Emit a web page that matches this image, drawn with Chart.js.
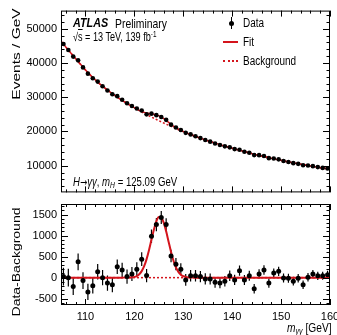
<!DOCTYPE html>
<html>
<head>
<meta charset="utf-8">
<script src="https://cdn.jsdelivr.net/npm/chart.js@4.4.1/dist/chart.umd.min.js"></script>
<style>
    html, body { margin: 0; padding: 0; background: #fff; }
    #wrap { position: relative; width: 337px; height: 335px; overflow: hidden; font-family: 'Liberation Sans', Arial, sans-serif; color: #000; }
    canvas { position: absolute; left: 0; }
    #topChart { top: 0; }
    #bottomChart { top: 200px; }
    .lbl { position: absolute; white-space: nowrap; line-height: 1; transform-origin: left center; }
    .vlbl { position: absolute; white-space: nowrap; line-height: 1; }
    .arrow { font-family: 'DejaVu Sans', sans-serif; font-size: 90%; }
    sub { font-size: 70%; vertical-align: -0.25em; line-height: 0; }
    sup { font-size: 70%; vertical-align: 0.45em; line-height: 0; }
</style>
</head>
<body>
<div id="wrap">
    <canvas id="topChart" width="337" height="203"></canvas>
    <canvas id="bottomChart" width="337" height="135"></canvas>

    <div class="vlbl" style="left:16px; top:54px; font-size:15.5px; transform: translate(-50%, -50%) rotate(-90deg) scaleY(0.75);">Events / GeV</div>
    <div class="vlbl" style="left:16px; top:262px; font-size:14px; transform: translate(-50%, -50%) rotate(-90deg) scaleY(0.8);">Data-Background</div>

    <div class="lbl" style="left:73px; top:23px; font-size:13.5px; font-weight:bold; font-style:italic; transform: translateY(-50%) scaleX(0.8);">ATLAS</div>
    <div class="lbl" style="left:115px; top:23px; font-size:13px; transform: translateY(-50%) scaleX(0.8);">Preliminary</div>
    <div class="lbl" style="left:73px; top:37px; font-size:12px; transform: translateY(-50%) scaleX(0.76);">&radic;<span style="text-decoration: overline;">s</span> = 13 TeV, 139 fb<sup>-1</sup></div>
    <div class="lbl" style="left:73px; top:182px; font-size:12px; transform: translateY(-50%) scaleX(0.8);"><i>H</i><span class="arrow">&rarr;</span><i>&gamma;&gamma;</i>, <i>m<sub>H</sub></i> = 125.09 GeV</div>

    <!-- legende -->
    <div style="position:absolute; left:231px; top:17px; width:1px; height:12px; background:#000;"></div>
    <div style="position:absolute; left:229px; top:21px; width:5px; height:5px; border-radius:50%; background:#000;"></div>
    <div class="lbl" style="left:243px; top:23px; font-size:12px; transform: translateY(-50%) scaleX(0.83);">Data</div>
    <div style="position:absolute; left:223px; top:41px; width:15px; height:2px; background:#d4141c;"></div>
    <div class="lbl" style="left:243px; top:42px; font-size:12px; transform: translateY(-50%) scaleX(0.83);">Fit</div>
    <div style="position:absolute; left:223px; top:60px; width:15px; height:0; border-top:2px dotted #d4141c;"></div>
    <div class="lbl" style="left:243px; top:61px; font-size:12px; transform: translateY(-50%) scaleX(0.83);">Background</div>

    <div class="lbl" style="left:287px; top:328px; font-size:12px; transform: translateY(-50%) scaleX(0.85);"><i>m<sub>&gamma;&gamma;</sub></i> [GeV]</div>
</div>

<script>
// Centres des bins (GeV)
const massBins = [
    105.5, 106.5, 107.5, 108.5, 109.5, 110.5, 111.5, 112.5, 113.5, 114.5,
    115.5, 116.5, 117.5, 118.5, 119.5, 120.5, 121.5, 122.5, 123.5, 124.5,
    125.5, 126.5, 127.5, 128.5, 129.5, 130.5, 131.5, 132.5, 133.5, 134.5,
    135.5, 136.5, 137.5, 138.5, 139.5, 140.5, 141.5, 142.5, 143.5, 144.5,
    145.5, 146.5, 147.5, 148.5, 149.5, 150.5, 151.5, 152.5, 153.5, 154.5,
    155.5, 156.5, 157.5, 158.5, 159.5
];

// Evenements / GeV (donnees)
const eventsData = [
    45525, 43780, 41870, 40775, 38710, 36880, 35560, 34560, 33200, 31970,
    30880, 30310, 29280, 28225, 27415, 26700, 26140, 24990, 25195, 24760,
    24240, 23390, 21985, 21160, 20430, 19595, 19135, 18595, 18055, 17500,
    17020, 16480, 16025, 15645, 15355, 14845, 14665, 14055, 13775, 13095,
    13085, 12840, 12200, 12120, 11850, 11390, 11095, 10745, 10545, 10130,
    10040, 9865, 9585, 9355, 9160
];

// Incertitudes statistiques
const dataErrors = [
    213, 209, 205, 201, 197, 193, 189, 186, 182, 179,
    176, 174, 171, 168, 166, 163, 161, 158, 159, 157,
    156, 153, 148, 145, 143, 140, 138, 136, 134, 132,
    130, 128, 127, 125, 124, 122, 121, 119, 117, 114,
    114, 113, 110, 110, 109, 107, 105, 104, 103, 101,
    100, 99, 98, 97, 96
];

// Bruit de fond (aux centres des bins) + bords
const bkgEvents = [
    45500, 43780, 42080, 40400, 38780, 37220, 35750, 34420, 33200, 32100,
    31050, 30050, 29100, 28200, 27330, 26500, 25700, 24940, 24210, 23500,
    22810, 22130, 21470, 20840, 20230, 19650, 19090, 18550, 18030, 17530,
    17050, 16590, 16150, 15730, 15310, 14900, 14500, 14110, 13730, 13360,
    13000, 12660, 12330, 12010, 11700, 11400, 11110, 10830, 10560, 10300,
    10030, 9780, 9540, 9310, 9090
];
const bkgAt105 = 46360;
const bkgAt160 = 8980;

// Ajustement signal + fond
const fitEvents = [
    45500, 43780, 42080, 40400, 38780, 37220, 35750, 34420, 33200, 32100,
    31050, 30050, 29100, 28200, 27337, 26539, 25855, 25381, 25114, 24838,
    24239, 23230, 22081, 21085, 20301, 19665, 19092, 18550, 18030, 17530,
    17050, 16590, 16150, 15730, 15310, 14900, 14500, 14110, 13730, 13360,
    13000, 12660, 12330, 12010, 11700, 11400, 11110, 10830, 10560, 10300,
    10030, 9780, 9540, 9310, 9090
];

// Donnees - fond
const residuals = [
    25, 0, -210, 375, -70, -340, -190, 140, 0, -130,
    -170, 260, 180, 25, 85, 200, 440, 50, 985, 1260,
    1430, 1260, 515, 320, 200, -55, 45, 45, 25, -30,
    -30, -110, -125, -85, 45, -55, 165, -55, 45, -265,
    85, 180, -130, 110, 150, -10, -15, -85, -15, -170,
    10, 85, 45, 45, 70
];

// Courbe du signal (panneau du bas)
const signalMass = [
    105, 117, 117.5, 118, 118.5, 119, 119.5, 120, 120.5, 121, 121.5, 122, 122.5,
    123, 123.5, 124, 124.5, 125, 125.5, 126, 126.5, 127, 127.5, 128, 128.5,
    129, 129.5, 130, 130.5, 131, 131.5, 132, 132.5, 133, 160
];
const signalFit = [
    0, 0, 0, 1, 1, 3, 7, 18, 39, 81, 155, 272, 441,
    658, 904, 1146, 1338, 1440, 1429, 1306, 1100, 854, 611, 403, 245,
    137, 71, 34, 15, 6, 2, 1, 0, 0, 0
];

// Graduations
const xTicks = [110, 120, 130, 140, 150, 160];
const yTicksTop = [10000, 20000, 30000, 40000, 50000];
const yTicksBottom = [-500, 0, 500, 1000, 1500];

const RED = '#d4141c';

const pts = (xs, ys) => xs.map((x, i) => ({ x: x, y: ys[i] }));

// Cadre style ROOT avec graduations vers l'interieur
const rootFrame = {
    id: 'rootFrame',
    afterDatasetsDraw(chart, args, opts) {
        const { ctx, chartArea: a, scales } = chart;
        const x = scales.x, y = scales.y;
        ctx.save();
        ctx.strokeStyle = '#000';
        ctx.lineWidth = 1;
        ctx.beginPath();
        const x0 = Math.ceil(x.min / opts.xMinor - 1e-9);
        for (let k = x0; k * opts.xMinor <= x.max + 1e-9; k++) {
            const v = k * opts.xMinor;
            const px = Math.round(x.getPixelForValue(v)) + 0.5;
            const len = (Math.abs(v % opts.xMajor) < 1e-9) ? 6 : 3;
            ctx.moveTo(px, a.bottom); ctx.lineTo(px, a.bottom - len);
            ctx.moveTo(px, a.top); ctx.lineTo(px, a.top + len);
        }
        const y0 = Math.ceil(y.min / opts.yMinor - 1e-9);
        for (let k = y0; k * opts.yMinor <= y.max + 1e-9; k++) {
            const v = k * opts.yMinor;
            const py = Math.round(y.getPixelForValue(v)) + 0.5;
            const len = (Math.abs(v % opts.yMajor) < 1e-9) ? 7 : 3.5;
            ctx.moveTo(a.left, py); ctx.lineTo(a.left + len, py);
            ctx.moveTo(a.right, py); ctx.lineTo(a.right - len, py);
        }
        ctx.stroke();
        ctx.strokeRect(a.left + 0.5, a.top + 0.5, a.right - a.left - 1, a.bottom - a.top - 1);
        ctx.restore();
    }
};

// Barres d'erreur verticales
const errorBars = {
    id: 'errorBars',
    beforeDatasetsDraw(chart, args, opts) {
        const { ctx, chartArea: a, scales: { x, y } } = chart;
        const ds = chart.data.datasets[0];
        ctx.save();
        ctx.beginPath();
        ctx.rect(a.left, a.top, a.right - a.left, a.bottom - a.top);
        ctx.clip();
        ctx.strokeStyle = '#000';
        ctx.lineWidth = 1.2;
        ctx.beginPath();
        ds.data.forEach((p, i) => {
            const px = x.getPixelForValue(p.x);
            ctx.moveTo(px, y.getPixelForValue(p.y - dataErrors[i]));
            ctx.lineTo(px, y.getPixelForValue(p.y + dataErrors[i]));
        });
        ctx.stroke();
        ctx.restore();
    }
};

const tickFont = { family: "'Liberation Sans', Arial, sans-serif", size: 11 };
const noGrid = { display: false, drawTicks: false };

// Panneau du haut
new Chart(document.getElementById('topChart'), {
    type: 'scatter',
    data: {
        datasets: [{
            label: 'Data',
            data: pts(massBins, eventsData),
            pointRadius: 2.3,
            pointBackgroundColor: '#000',
            pointBorderWidth: 0,
            showLine: false,
            order: 0
        }, {
            label: 'Fit',
            data: pts([105, ...massBins, 160], [bkgAt105, ...fitEvents, bkgAt160]),
            showLine: true,
            borderColor: RED,
            borderWidth: 1.5,
            pointRadius: 0,
            cubicInterpolationMode: 'monotone',
            order: 1
        }, {
            label: 'Background',
            data: pts([105, ...massBins, 160], [bkgAt105, ...bkgEvents, bkgAt160]),
            showLine: true,
            borderColor: RED,
            borderWidth: 1.5,
            borderDash: [2, 2],
            pointRadius: 0,
            cubicInterpolationMode: 'monotone',
            order: 2
        }]
    },
    options: {
        responsive: false,
        animation: false,
        layout: { padding: { left: 0, top: 10, right: 7, bottom: 3 } },
        plugins: {
            legend: { display: false },
            tooltip: { enabled: false },
            rootFrame: { xMinor: 2, xMajor: 10, yMinor: 2000, yMajor: 10000 }
        },
        scales: {
            x: { type: 'linear', min: 105, max: 160, display: false },
            y: {
                min: 2200,
                max: 55300,
                afterBuildTicks: (s) => { s.ticks = yTicksTop.map(v => ({ value: v })); },
                afterFit: (s) => { s.width = 61; },
                grid: noGrid,
                border: { display: false },
                ticks: { color: '#000', font: tickFont, padding: 4, callback: (v) => String(v) }
            }
        }
    },
    plugins: [errorBars, rootFrame]
});

// Panneau du bas
new Chart(document.getElementById('bottomChart'), {
    type: 'scatter',
    data: {
        datasets: [{
            label: 'Data-Background',
            data: pts(massBins, residuals),
            pointRadius: 2.5,
            pointBackgroundColor: '#000',
            pointBorderWidth: 0,
            showLine: false,
            order: 0
        }, {
            label: 'Fit',
            data: pts(signalMass, signalFit),
            showLine: true,
            borderColor: RED,
            borderWidth: 2,
            pointRadius: 0,
            cubicInterpolationMode: 'monotone',
            order: 1
        }, {
            label: 'Background',
            data: pts([105, 160], [0, 0]),
            showLine: true,
            borderColor: RED,
            borderWidth: 1.5,
            borderDash: [2, 2],
            pointRadius: 0,
            order: 2
        }]
    },
    options: {
        responsive: false,
        animation: false,
        layout: { padding: { left: 0, top: 3, right: 7, bottom: 0 } },
        plugins: {
            legend: { display: false },
            tooltip: { enabled: false },
            rootFrame: { xMinor: 2, xMajor: 10, yMinor: 100, yMajor: 500 }
        },
        scales: {
            x: {
                type: 'linear',
                min: 105,
                max: 160,
                afterBuildTicks: (s) => { s.ticks = xTicks.map(v => ({ value: v })); },
                afterFit: (s) => { s.height = 30; s.paddingLeft = 0; s.paddingRight = 0; },
                grid: noGrid,
                border: { display: false },
                ticks: { color: '#000', font: tickFont, padding: 5, maxRotation: 0, autoSkip: false, callback: (v) => String(v) }
            },
            y: {
                min: -650,
                max: 1750,
                afterBuildTicks: (s) => { s.ticks = yTicksBottom.map(v => ({ value: v })); },
                afterFit: (s) => { s.width = 61; s.paddingTop = 0; s.paddingBottom = 0; },
                grid: noGrid,
                border: { display: false },
                ticks: { color: '#000', font: tickFont, padding: 4, callback: (v) => String(v) }
            }
        }
    },
    plugins: [errorBars, rootFrame]
});
</script>
</body>
</html>
